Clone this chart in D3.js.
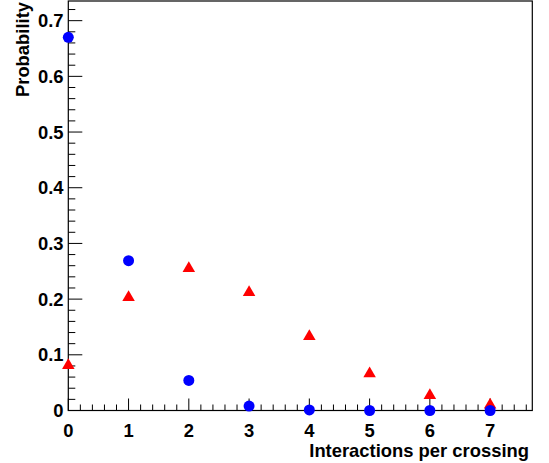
<!DOCTYPE html>
<html>
<head>
<meta charset="utf-8">
<script src="https://cdn.jsdelivr.net/npm/d3@7"></script>
<style>
  html, body { margin: 0; padding: 0; background: #fff; }
  svg { display: block; }
  text { font-family: "Liberation Sans", Arial, sans-serif; font-weight: bold; }
</style>
</head>
<body>
<svg id="chart" width="549" height="463"></svg>
<script>
const categories = [0, 1, 2, 3, 4, 5, 6, 7];
const blueValues = [0.670, 0.269, 0.054, 0.008, 0.001, 0.0, 0.0, 0.0];
const redValues  = [0.081, 0.203, 0.255, 0.212, 0.133, 0.066, 0.027, 0.010];
const xTickLabels = ["0", "1", "2", "3", "4", "5", "6", "7"];
const yTickLabels = ["0", "0.1", "0.2", "0.3", "0.4", "0.5", "0.6", "0.7"];

(function () {
const svg = d3.select("#chart");
const pLeft = 68.3, pRight = 532.3, pTop = 1, pBottom = 410.5;
const fs = 18.4;

const x = d3.scaleLinear().domain([0, 7.7]).range([pLeft, pRight]);
const y = d3.scaleLinear().domain([0, 0.7353]).range([pBottom, pTop]);

// frame
svg.append("rect")
  .attr("x", pLeft).attr("y", pTop)
  .attr("width", pRight - pLeft).attr("height", pBottom - pTop)
  .attr("fill", "none").attr("stroke", "#000").attr("stroke-width", 1.2);

// x ticks
const xMinor = d3.range(0, 7.70001, 0.2);
svg.append("g").selectAll("line").data(xMinor).join("line")
  .attr("x1", d => x(d)).attr("x2", d => x(d))
  .attr("y1", pBottom).attr("y2", d => Math.abs(d - Math.round(d)) < 1e-6 ? pBottom - 12 : pBottom - 6)
  .attr("stroke", "#000").attr("stroke-width", 1);

svg.append("g").selectAll("text").data(categories).join("text")
  .attr("x", d => x(d)).attr("y", 437)
  .attr("text-anchor", "middle").attr("font-size", fs)
  .text((d, i) => xTickLabels[i]);

// y ticks
const yMinor = d3.range(0, 0.7353, 0.02);
svg.append("g").selectAll("line").data(yMinor).join("line")
  .attr("y1", d => y(d)).attr("y2", d => y(d))
  .attr("x1", pLeft).attr("x2", d => Math.abs(d * 10 - Math.round(d * 10)) < 1e-6 ? pLeft + 14 : pLeft + 7)
  .attr("stroke", "#000").attr("stroke-width", 1);

svg.append("g").selectAll("text").data(yTickLabels).join("text")
  .attr("x", 63.5).attr("y", (d, i) => y(i / 10) + 6.6)
  .attr("text-anchor", "end").attr("font-size", fs)
  .text(d => d);

// axis titles
svg.append("text")
  .attr("x", 529).attr("y", 457)
  .attr("text-anchor", "end").attr("font-size", fs)
  .text("Interactions per crossing");

svg.append("text")
  .attr("transform", "translate(28.5,2) rotate(-90)")
  .attr("text-anchor", "end").attr("font-size", fs)
  .text("Probability");

// red triangles
const tri = d3.symbol().type(d3.symbolTriangle).size(68);
svg.append("g").selectAll("path").data(categories).join("path")
  .attr("d", tri)
  .attr("transform", (d, i) => `translate(${x(d)},${y(redValues[i])})`)
  .attr("fill", "#ff0000");

// blue circles
svg.append("g").selectAll("circle").data(categories).join("circle")
  .attr("cx", d => x(d)).attr("cy", (d, i) => y(blueValues[i]))
  .attr("r", 5.5).attr("fill", "#0000ff");
})();
</script>
</body>
</html>
